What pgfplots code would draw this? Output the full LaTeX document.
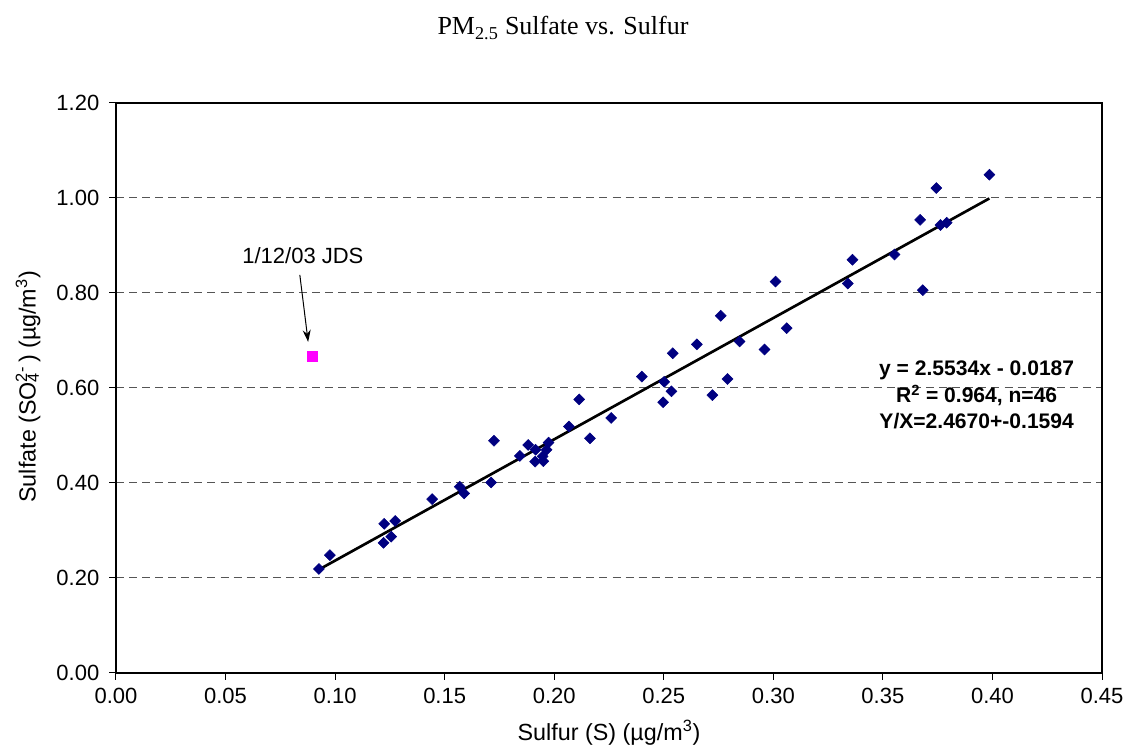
\documentclass[border=0pt]{standalone}
\usepackage{fontspec}
\setmainfont{Liberation Sans}
\newfontfamily\titlefont{Liberation Serif}
\usepackage{pgfplots}
\pgfplotsset{compat=1.18}
\usetikzlibrary{arrows.meta}

\definecolor{ptnavy}{HTML}{000080}
\definecolor{ptmagenta}{HTML}{FF00FF}
\definecolor{gridgray}{HTML}{555555}

\newcommand{\lbl}{\fontsize{16.5}{19}\selectfont}
\newcommand{\axlbl}{\fontsize{17.5}{20}\selectfont}

\begin{document}
\begin{tikzpicture}
\begin{axis}[
  at={(87pt,54pt)}, anchor=south west,
  width=739.5pt, height=427.5pt, scale only axis,
  xmin=0, xmax=0.45, ymin=0, ymax=1.2,
  xtick={0,0.05,0.10,0.15,0.20,0.25,0.30,0.35,0.40,0.45},
  ytick={0,0.2,0.4,0.6,0.8,1.0,1.2},
  xtick pos=bottom, ytick pos=left,
  /pgf/number format/assume math mode=true,
  /pgf/number format/fixed,
  /pgf/number format/fixed zerofill,
  /pgf/number format/precision=2,
  yticklabel style={xshift=-4pt},
  xticklabel style={yshift=-3pt},
  ticklabel style={font=\lbl},
  tick align=outside,
  major tick length=5pt,
  tick style={black, line width=0.75pt},
  axis line style={black, line width=1.7pt},
  ymajorgrids,
  grid style={gridgray, line width=0.75pt, dash pattern=on 6pt off 3.8pt},
  xlabel={Sulfur (S) (µg/m\textsuperscript{3})},
  ylabel={Sulfate (SO\rlap{\textsubscript{4}}\textsuperscript{2-}\,) (µg/m\textsuperscript{3})},
  xlabel style={font=\axlbl, at={(axis description cs:0.5,-0.105)}, anchor=center},
  ylabel style={font=\axlbl, at={(axis description cs:-0.0892,0.502)}, anchor=center, rotate=0},
  clip=false,
]
% measured samples
\addplot[only marks, mark=square*, mark size=2.9pt,
  mark options={rotate=45, fill=ptnavy, draw=ptnavy}] coordinates {
  (0.0926,0.219) (0.0976,0.248) (0.1224,0.314) (0.1274,0.320) (0.1256,0.287)
  (0.1221,0.274) (0.1443,0.366) (0.1569,0.392) (0.1589,0.378) (0.1712,0.401)
  (0.1725,0.489) (0.1843,0.457) (0.1881,0.480) (0.1915,0.470) (0.1913,0.445)
  (0.1947,0.456) (0.1950,0.446) (0.1965,0.470) (0.1974,0.485) (0.2067,0.519)
  (0.2114,0.576) (0.2163,0.494) (0.2260,0.537) (0.2400,0.624) (0.2502,0.613)
  (0.2535,0.593) (0.2497,0.570) (0.2541,0.673) (0.2651,0.692) (0.2722,0.585)
  (0.2760,0.752) (0.2791,0.619) (0.2846,0.698) (0.2960,0.681) (0.3061,0.726)
  (0.3010,0.824) (0.3340,0.820) (0.3361,0.870) (0.3553,0.881) (0.3682,0.806)
  (0.3670,0.954) (0.3744,1.021) (0.3763,0.943) (0.3791,0.948) (0.3986,1.049)
};
% excluded sample
\addplot[only marks, mark=square*, mark size=3.6pt,
  mark options={fill=ptmagenta, draw=ptmagenta}] coordinates {(0.0896,0.667)};
% linear fit y = 2.5534x - 0.0187 over the data range
\addplot[black, line width=2pt, no marks] coordinates {(0.0926,0.2177) (0.3986,0.9991)};

\node[font=\lbl] at (axis cs:0.0853,0.878) {1/12/03 JDS};
\draw[-{Stealth[length=9pt,width=6pt]}, line width=0.75pt]
  (axis cs:0.0839,0.838) -- (axis cs:0.0877,0.697);
\node[font=\fontsize{15.8}{18}\selectfont\bfseries, align=center, inner sep=0pt] at (axis cs:0.3928,0.585)
  {y = 2.5534x - 0.0187\\[2pt]R\textsuperscript{2} = 0.964, n=46\\[2pt]Y/X=2.4670+-0.1594};
\end{axis}
\node[font=\titlefont\fontsize{19.5}{21}\selectfont] at (422.25pt,537.75pt)
  {PM\textsubscript{2.5} Sulfate vs. Sulfur};
\pgfresetboundingbox
\useasboundingbox (0,0) rectangle (846pt,558.75pt);
\end{tikzpicture}
\end{document}
